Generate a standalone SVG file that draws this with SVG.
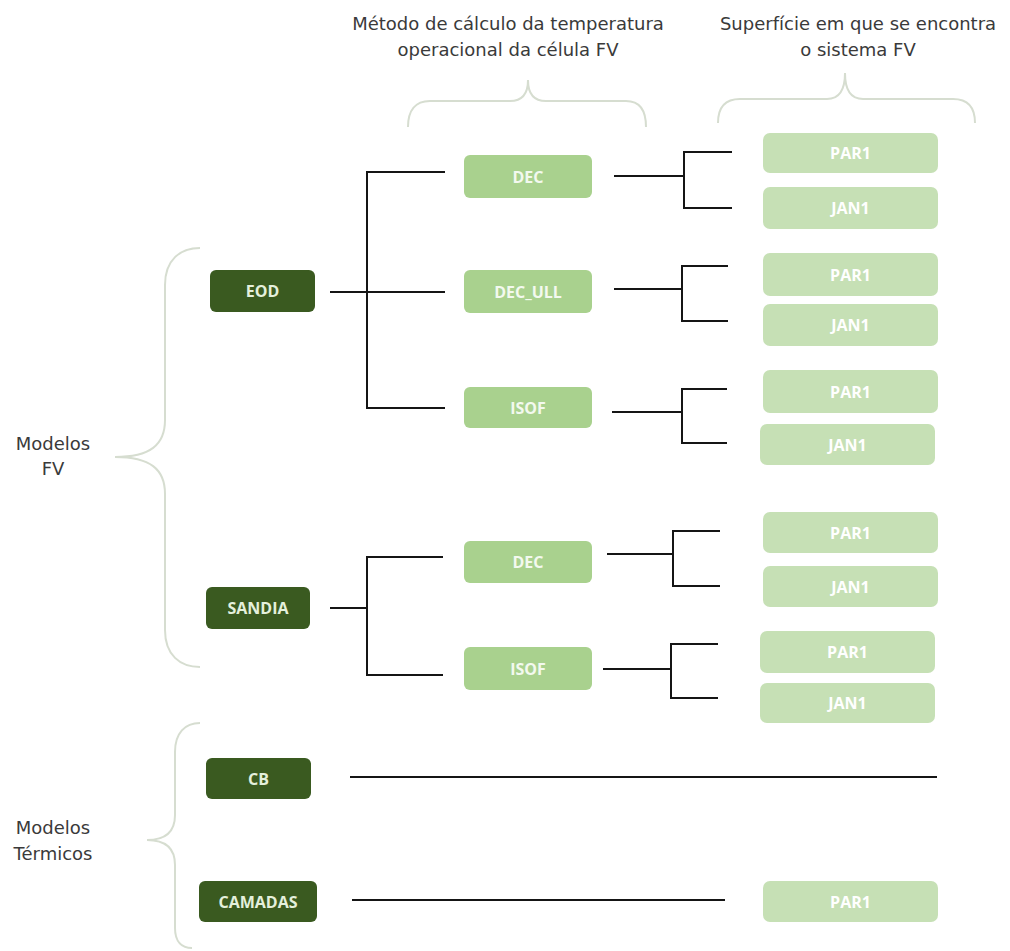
<svg xmlns="http://www.w3.org/2000/svg" width="1010" height="951" viewBox="0 0 1010 951">
<style>
.bg{fill:#ffffff}
.title{font-family:"DejaVu Sans",sans-serif;font-size:18px;fill:#3a3a3a;text-anchor:middle}
.brace{fill:none;stroke:#d6ddd0;stroke-width:2}
.dark rect{fill:#3a5a20;rx:6;ry:6}
.dark text{font-family:"Open Sans",sans-serif;font-weight:700;font-size:16px;fill:#e4f0dc;text-anchor:middle;dominant-baseline:central}
.mid rect{fill:#a9d18e;rx:6;ry:6}
.mid text{font-family:"Open Sans",sans-serif;font-weight:700;font-size:16px;fill:#f3f9ef;text-anchor:middle;dominant-baseline:central}
.light rect{fill:#c6e0b5;rx:7;ry:7}
.light text{font-family:"Open Sans",sans-serif;font-weight:700;font-size:16px;fill:#ffffff;text-anchor:middle;dominant-baseline:central}
#connectors path{fill:none;stroke:#151515;stroke-width:2}
</style>
<rect class="bg" x="0" y="0" width="1010" height="951"/>

<g id="titles">
<text class="title" x="508" y="30">Método de cálculo da temperatura</text>
<text class="title" x="508" y="56">operacional da célula FV</text>
<text class="title" x="858" y="30">Superfície em que se encontra</text>
<text class="title" x="858" y="56">o sistema FV</text>
<text class="title" x="53" y="450">Modelos</text>
<text class="title" x="53" y="475">FV</text>
<text class="title" x="53" y="834">Modelos</text>
<text class="title" x="53" y="860">Térmicos</text>
</g>

<g id="braces">
<path class="brace" d="M408,127 C408,111 415,101 430,101 L510,101 C522,101 528,94 528,80 C528,94 534,101 546,101 L626,101 C640,101 646,111 646,127"/>
<path class="brace" d="M718,123 C718,108 725,99 740,99 L827,99 C839,99 845,91 845,73 C845,91 851,99 863,99 L953,99 C968,99 975,108 975,123"/>
<path class="brace" d="M200,248 C180,248 165,260 165,285 L165,420 C165,445 150,457 115,457 C150,457 165,469 165,494 L165,630 C165,655 180,667 200,667"/>
<path class="brace" d="M200,723 C185,723 175,733 175,752 L175,815 C175,832 165,840 147,840 C165,840 175,848 175,865 L175,928 C175,942 182,948 192,948"/>
</g>

<g id="connectors">
<path d="M330,292 H445 M445,172 H367 V408 H445"/>
<path d="M330,608 H367 M443,557 H367 V675 H443"/>
<path d="M614,176 H684 M732,152 H684 V208 H732"/>
<path d="M614,289 H682 M728,266 H682 V321 H728"/>
<path d="M612,412 H682 M727,389 H682 V443 H727"/>
<path d="M607,554 H673 M720,531 H673 V586 H720"/>
<path d="M603,669 H671 M718,644 H671 V698 H718"/>
<path d="M350,777 H937"/>
<path d="M352,900 H725"/>
</g>

<g id="node-eod" class="dark"><rect x="210" y="270" width="105" height="42"/><text x="262.5" y="291">EOD</text></g>
<g id="node-sandia" class="dark"><rect x="206" y="587" width="104" height="42"/><text x="258" y="608">SANDIA</text></g>
<g id="node-cb" class="dark"><rect x="206" y="758" width="105" height="41"/><text x="258.5" y="778.5">CB</text></g>
<g id="node-camadas" class="dark"><rect x="199" y="881" width="118" height="41"/><text x="258" y="901.5">CAMADAS</text></g>

<g id="node-dec1" class="mid"><rect x="464" y="155" width="128" height="43"/><text x="528" y="176.5">DEC</text></g>
<g id="node-decull" class="mid"><rect x="464" y="270" width="128" height="43"/><text x="528" y="291.5">DEC_ULL</text></g>
<g id="node-isof1" class="mid"><rect x="464" y="387" width="128" height="41"/><text x="528" y="407.5">ISOF</text></g>
<g id="node-dec2" class="mid"><rect x="464" y="541" width="128" height="42"/><text x="528" y="562">DEC</text></g>
<g id="node-isof2" class="mid"><rect x="464" y="647" width="128" height="43"/><text x="528" y="668.5">ISOF</text></g>

<g id="node-par1a" class="light"><rect x="763" y="133" width="175" height="40"/><text x="850.5" y="153">PAR1</text></g>
<g id="node-jan1a" class="light"><rect x="763" y="187" width="175" height="42"/><text x="850.5" y="208">JAN1</text></g>
<g id="node-par1b" class="light"><rect x="763" y="253" width="175" height="43"/><text x="850.5" y="274.5">PAR1</text></g>
<g id="node-jan1b" class="light"><rect x="763" y="304" width="175" height="42"/><text x="850.5" y="325">JAN1</text></g>
<g id="node-par1c" class="light"><rect x="763" y="370" width="175" height="43"/><text x="850.5" y="391.5">PAR1</text></g>
<g id="node-jan1c" class="light"><rect x="760" y="424" width="175" height="41"/><text x="847.5" y="444.5">JAN1</text></g>
<g id="node-par1d" class="light"><rect x="763" y="512" width="175" height="41"/><text x="850.5" y="532.5">PAR1</text></g>
<g id="node-jan1d" class="light"><rect x="763" y="566" width="175" height="41"/><text x="850.5" y="586.5">JAN1</text></g>
<g id="node-par1e" class="light"><rect x="760" y="631" width="175" height="42"/><text x="847.5" y="652">PAR1</text></g>
<g id="node-jan1e" class="light"><rect x="760" y="683" width="175" height="40"/><text x="847.5" y="703">JAN1</text></g>
<g id="node-par1f" class="light"><rect x="763" y="881" width="175" height="41"/><text x="850.5" y="901.5">PAR1</text></g>
</svg>
